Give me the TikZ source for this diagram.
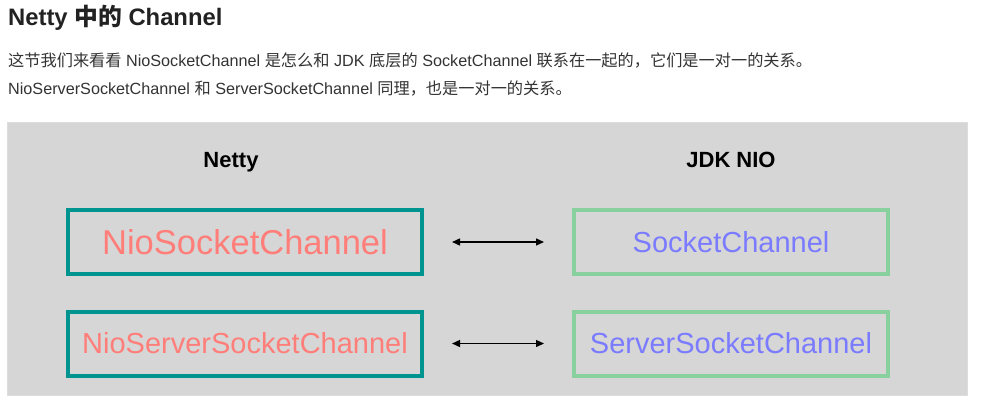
\documentclass[tikz,border=0pt]{standalone}
\usepackage{fontspec}
\setmainfont{Liberation Sans}
\newfontfamily\cjk{Noto Sans CJK SC}
\usetikzlibrary{arrows.meta}
\definecolor{bggray}{HTML}{D6D6D6}
\definecolor{bgedge}{HTML}{DDDDDD}
\definecolor{tealbox}{HTML}{009490}
\definecolor{greenbox}{HTML}{88D09E}
\definecolor{salmon}{HTML}{FF7E79}
\definecolor{bluetxt}{HTML}{7B7BFF}
\definecolor{bodytxt}{HTML}{333333}
\definecolor{titletxt}{HTML}{222222}
\tikzset{
  nettybox/.style={draw=tealbox, line width=4pt, minimum width=354pt, minimum height=64pt, inner sep=0pt, text=salmon},
  jdkbox/.style={draw=greenbox, line width=4pt, minimum width=314pt, minimum height=64pt, inner sep=0pt, text=bluetxt},
  head/.style={font=\bfseries\fontsize{22}{26}\selectfont, text=black, inner sep=0pt},
  para/.style={anchor=base west, inner sep=0pt, text=bodytxt, font=\fontsize{16.2}{19}\selectfont},
  link/.style={{Triangle[length=8pt,width=7pt]}-{Triangle[length=8pt,width=7pt]}, line width=1.4pt, shorten <=28pt, shorten >=28pt}
}
\begin{document}
\begin{tikzpicture}[x=1pt,y=-1pt]
\fill[white] (0,0) rectangle (981,407);
\useasboundingbox (0,0) rectangle (981,407);
\filldraw[fill=bggray, draw=bgedge, line width=1pt] (7,122) rectangle (967,395);
\node[anchor=base west, inner sep=0pt, text=titletxt, font=\bfseries\fontsize{23.8}{27}\selectfont] (title) at (8,25) {Netty {\cjk 中的} Channel};
\node[para] (p1) at (8,66) {{\cjk 这节我们来看看} NioSocketChannel {\cjk 是怎么和} JDK {\cjk 底层的} SocketChannel {\cjk 联系在一起的，它们是一对一的关系。}};
\node[para] (p2) at (8,94) {NioServerSocketChannel {\cjk 和} ServerSocketChannel {\cjk 同理，也是一对一的关系。}};
\node[head, anchor=base] (netty) at (231,167) {Netty};
\node[head, anchor=base] (jdk) at (731,167) {JDK NIO};
\node[nettybox, font=\fontsize{34.5}{40}\selectfont] (L1) at (245,242) {NioSocketChannel};
\node[nettybox, font=\fontsize{29}{34}\selectfont] (L2) at (245,343.5) {NioServerSocketChannel};
\node[jdkbox, font=\fontsize{29}{34}\selectfont] (R1) at (731,242) {SocketChannel};
\node[jdkbox, font=\fontsize{29}{34}\selectfont] (R2) at (731,343.5) {ServerSocketChannel};
\draw[link] (L1.east) -- (R1.west);
\draw[link] (L2.east) -- (R2.west);
\end{tikzpicture}
\end{document}
